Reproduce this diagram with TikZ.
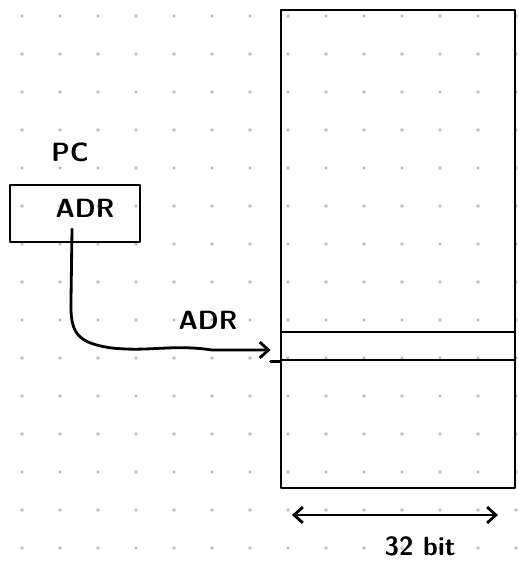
\documentclass[tikz,border=0pt]{standalone}
\usepackage{tikz}
\usetikzlibrary{arrows.meta,positioning,calc}

\tikzset{
  hand/.style={font=\sffamily\bfseries\fontsize{15}{15}\selectfont},
  cellbox/.style={draw, line width=1.6pt, inner sep=0pt},
  griddot/.style={fill=black!25}
}

\begin{document}
\begin{tikzpicture}[x=0.02cm, y=-0.02cm, line join=round, line cap=round, >={Straight Barb[length=5pt,width=9pt]}]
\useasboundingbox (0,0) rectangle (518,565);
% dot grid
\foreach \i in {0,...,13} {
  \foreach \j in {0,...,14} {
    \fill[griddot] (22+38*\i,16+38*\j) circle (1.1pt);
  }
}
% memory
\node[cellbox, minimum width=4.68cm, minimum height=9.56cm] (mem) at (398,249) {};
\node[cellbox, minimum width=4.68cm, minimum height=0.56cm] (slot) at (398,346) {};
\draw[line width=1.6pt] (slot.south west) -- ++(-9,0);
% program counter
\node[hand] (pclbl) at (70,152) {PC};
\node[cellbox, minimum width=2.6cm, minimum height=1.14cm] (pc) at (75,213.5) {};
\node[hand] (pcadr) at (85,208) {ADR};
\node[hand] (busadr) at (208,320) {ADR};
% address line
\coordinate (src) at (72,229);
\coordinate (dst) at ($(slot.west)+(-9,4)$);
\draw[line width=1.6pt, ->] (src) -- (71,300)
  .. controls (70,332) and (76,343) .. (112,348)
  .. controls (150,352) and (172,344) .. (212,350) -- (dst);
% width
\coordinate (wl) at (292,515);
\coordinate (wr) at (498,515);
\draw[line width=1.6pt, <->] (wl) -- (wr);
\node[hand] (bits) at (420,546) {32 bit};
\end{tikzpicture}
\end{document}
